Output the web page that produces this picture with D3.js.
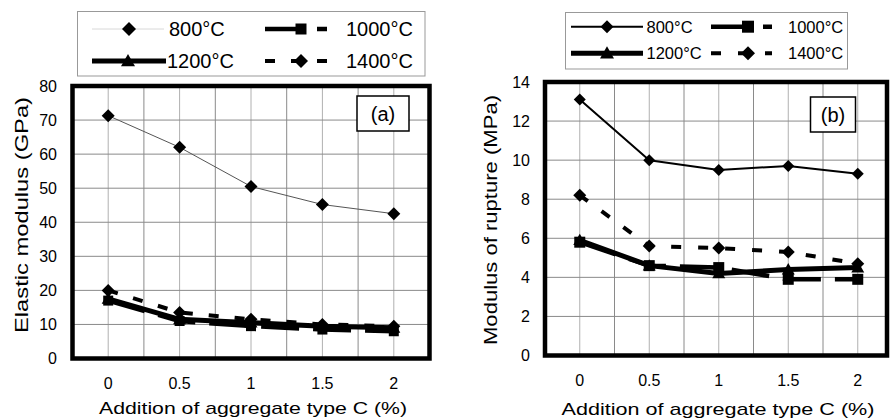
<!DOCTYPE html>
<html><head><meta charset="utf-8">
<script src="https://cdn.jsdelivr.net/npm/d3@7"></script>
<style>body{margin:0;background:#fff}svg{display:block}text{font-family:"Liberation Sans",Arial,sans-serif;fill:#000}</style>
</head><body><svg id="c" width="893" height="420"></svg>
<script>
// ---- data ----
const xValues = [0, 0.5, 1, 1.5, 2];
const xTickLabels = ["0", "0.5", "1", "1.5", "2"];
const seriesNames = ["800°C", "1000°C", "1200°C", "1400°C"];
const elastic800  = [71.3, 62.0, 50.5, 45.2, 42.5];
const elastic1000 = [17.0, 11.0, 9.5, 8.5, 8.0];
const elastic1200 = [17.5, 11.5, 10.5, 9.5, 9.0];
const elastic1400 = [20.0, 13.5, 11.5, 10.0, 9.5];
const rupture800  = [13.1, 10.0, 9.5, 9.7, 9.3];
const rupture1000 = [5.8, 4.6, 4.5, 3.9, 3.9];
const rupture1200 = [5.9, 4.6, 4.2, 4.4, 4.5];
const rupture1400 = [8.2, 5.6, 5.5, 5.3, 4.7];
const elasticTicks = [0, 10, 20, 30, 40, 50, 60, 70, 80];
const ruptureTicks = [0, 2, 4, 6, 8, 10, 12, 14];
const xTitle = "Addition of aggregate type C (%)";
const elasticTitle = "Elastic modulus (GPa)";
const ruptureTitle = "Modulus of rupture (MPa)";

const svg = d3.select("#c");

function markerPath(type, s) {
  const h = s / 2;
  if (type === "diamond") return `M0,${-h}L${h},0L0,${h}L${-h},0Z`;
  if (type === "square") return `M${-h},${-h}h${s}v${s}h${-s}Z`;
  return `M0,${-h}L${h},${h * 0.75}L${-h},${h * 0.75}Z`;
}

function drawPanel(p) {
  const g = svg.append("g");
  const x = d3.scaleLinear().domain([-0.25, 2.25]).range([p.x0, p.x0 + 2.5 * p.unit]);
  const y = d3.scaleLinear().domain([0, p.ymax]).range([p.yb, p.yt]);
  // gridlines
  const vgrid = d3.range(0, 9).map(i => i * 0.25);
  g.selectAll(".vg").data(vgrid).join("line")
    .attr("x1", d => x(d)).attr("x2", d => x(d)).attr("y1", p.yt).attr("y2", p.yb)
    .attr("stroke", (d, i) => i % 2 ? "#8a8a8a" : "#b0b0b0").attr("stroke-width", 1);
  g.selectAll(".hg").data(p.ticks).join("line")
    .attr("x1", p.x0).attr("x2", p.xr).attr("y1", d => y(d)).attr("y2", d => y(d))
    .attr("stroke", "#8a8a8a").attr("stroke-width", 1);
  // series
  p.series.forEach(s => {
    const line = d3.line().x((d, i) => x(xValues[i])).y(d => y(d));
    g.append("path").attr("d", line(s.values)).attr("fill", "none")
      .attr("stroke", s.color).attr("stroke-width", s.width)
      .attr("stroke-dasharray", s.dash || null).attr("stroke-linejoin", "round");
    g.selectAll(null).data(s.values).join("path")
      .attr("transform", (d, i) => `translate(${x(xValues[i])},${y(d)})`)
      .attr("d", markerPath(s.marker, s.msize)).attr("fill", "#000");
  });
  // frame
  g.append("rect").attr("x", p.x0).attr("y", p.yt).attr("width", p.xr - p.x0).attr("height", p.yb - p.yt)
    .attr("fill", "none").attr("stroke", "#000").attr("stroke-width", 4.5);
  // y tick labels
  g.selectAll(".yl").data(p.ticks).join("text")
    .attr("x", p.ylabX).attr("y", d => y(d)).attr("dy", "0.36em").attr("text-anchor", "end")
    .style("font-size", "16px").text(d => d);
  // x tick labels
  g.selectAll(".xl").data(xValues).join("text")
    .attr("x", d => x(d)).attr("y", p.xlabY).attr("dy", "0.36em").attr("text-anchor", "middle")
    .style("font-size", "16px").text((d, i) => xTickLabels[i]);
  // titles
  g.append("text").attr("x", p.xtX).attr("y", p.xtBase).attr("text-anchor", "middle")
    .attr("textLength", p.xtLen).attr("lengthAdjust", "spacingAndGlyphs")
    .style("font-size", "17px").text(xTitle);
  g.append("text").attr("transform", `translate(${p.ytX},${p.ytY}) rotate(-90)`).attr("dy", "0.36em")
    .attr("text-anchor", "middle").attr("textLength", p.ytLen).attr("lengthAdjust", "spacingAndGlyphs")
    .style("font-size", "18px").text(p.ytitle);
  // panel label box
  g.append("rect").attr("x", p.lab[0]).attr("y", p.lab[1]).attr("width", p.lab[2]).attr("height", p.lab[3])
    .attr("fill", "#fff").attr("stroke", "#000").attr("stroke-width", 1.5);
  g.append("text").attr("x", p.lab[0] + p.lab[2] / 2).attr("y", p.lab[1] + p.lab[3] / 2).attr("dy", "0.36em")
    .attr("text-anchor", "middle").style("font-size", "20px").text(p.labText);
  // legend
  const L = p.legend;
  g.append("rect").attr("x", L.box[0]).attr("y", L.box[1]).attr("width", L.box[2]).attr("height", L.box[3])
    .attr("fill", "#fff").attr("stroke", "#999").attr("stroke-width", 1);
  p.series.forEach((s, i) => {
    const it = L.items[i];
    g.append("line").attr("x1", it.x1).attr("x2", it.x2).attr("y1", it.y).attr("y2", it.y)
      .attr("stroke", s.legendColor || s.color).attr("stroke-width", s.width)
      .attr("stroke-dasharray", s.dash || null);
    g.append("path").attr("transform", `translate(${it.m},${it.y})`).attr("d", markerPath(s.marker, s.msize + 1)).attr("fill", "#000");
    g.append("text").attr("x", it.t).attr("y", it.y).attr("dy", "0.36em").style("font-size", L.font + "px").text(seriesNames[i]);
  });
}

drawPanel({
  x0: 72.5, unit: 142.8, xr: 429.5, yt: 86, yb: 358.5, ymax: 80, ticks: elasticTicks,
  ylabX: 57, xlabY: 383, xtX: 253, xtBase: 414, xtLen: 308, ytX: 22, ytY: 215, ytLen: 236, ytitle: elasticTitle,
  lab: [357, 96, 52, 35], labText: "(a)",
  series: [
    {values: elastic800, color: "#555", legendColor: "#d8d8d8", width: 1, marker: "diamond", msize: 13},
    {values: elastic1000, color: "#000", width: 4.5, dash: "38,14", marker: "square", msize: 10},
    {values: elastic1200, color: "#000", width: 5, marker: "triangle", msize: 13},
    {values: elastic1400, color: "#000", width: 4, dash: "10,16", marker: "diamond", msize: 13}
  ],
  legend: {box: [77.5, 11.5, 347.5, 64.5], font: 20, items: [
    {x1: 92, x2: 164, y: 29, m: 129, t: 169},
    {x1: 265, x2: 327, y: 29, m: 301, t: 346},
    {x1: 92, x2: 166, y: 61, m: 128, t: 167},
    {x1: 265, x2: 327, y: 61, m: 301, t: 346}
  ]}
});

drawPanel({
  x0: 545, unit: 139, xr: 887, yt: 82, yb: 355.5, ymax: 14, ticks: ruptureTicks,
  ylabX: 530, xlabY: 380, xtX: 718, xtBase: 414.5, xtLen: 313, ytX: 491, ytY: 220, ytLen: 250, ytitle: ruptureTitle,
  lab: [810.5, 97, 45, 35], labText: "(b)",
  series: [
    {values: rupture800, color: "#000", width: 2, marker: "diamond", msize: 12},
    {values: rupture1000, color: "#000", width: 4.5, dash: "38,14", marker: "square", msize: 11},
    {values: rupture1200, color: "#000", width: 5, marker: "triangle", msize: 13},
    {values: rupture1400, color: "#000", width: 4, dash: "10,17", marker: "diamond", msize: 13}
  ],
  legend: {box: [565.5, 12.5, 282, 56.5], font: 16.5, items: [
    {x1: 571, x2: 643, y: 26.7, m: 607, t: 646.5},
    {x1: 711, x2: 772, y: 26.7, m: 748, t: 788},
    {x1: 571, x2: 643, y: 53.3, m: 607, t: 646.5},
    {x1: 711, x2: 772, y: 53.3, m: 748, t: 788}
  ]}
});
</script></body></html>
